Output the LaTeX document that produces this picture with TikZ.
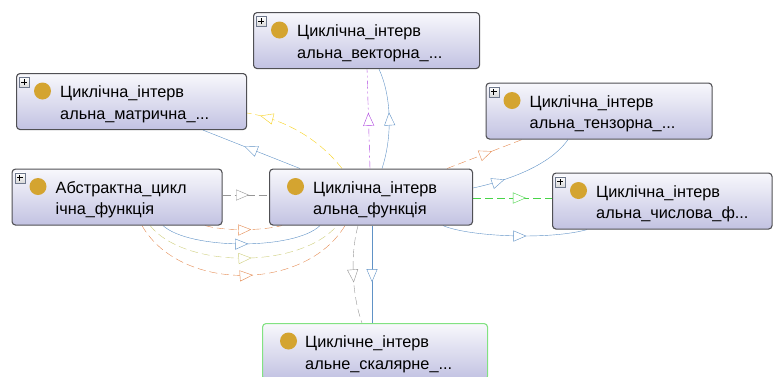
\documentclass[tikz,border=0pt]{standalone}
\usepackage{fontspec}
\setmainfont{Liberation Sans}
\usetikzlibrary{arrows.meta,decorations.markings,calc,backgrounds}
\definecolor{boxtop}{RGB}{248,248,252}
\definecolor{boxbot}{RGB}{194,194,226}
\definecolor{boxborder}{RGB}{80,80,84}
\definecolor{dotcol}{RGB}{212,164,48}
\definecolor{edgeblue}{RGB}{96,146,198}
\definecolor{edgepurple}{RGB}{172,64,222}
\definecolor{edgeyellow}{RGB}{248,210,30}
\definecolor{edgeorange}{RGB}{228,138,80}
\definecolor{edgegray}{RGB}{150,150,150}
\definecolor{edgegreen}{RGB}{72,212,72}
\definecolor{edgeolive}{RGB}{206,206,124}
\definecolor{scalborder}{RGB}{130,226,130}
\definecolor{plusborder}{RGB}{110,120,140}
\tikzset{
  clsbox/.style={draw=boxborder, line width=1.1pt, rounded corners=3.5pt,
    top color=boxtop, bottom color=boxbot, anchor=north west,
    minimum height=56pt, inner sep=0pt},
  dotnode/.style={circle, fill=dotcol, minimum size=17pt, inner sep=0pt},
  lbl/.style={anchor=base west, inner sep=0pt, font=\fontsize{16.3}{20}\selectfont},
  plusicon/.style={draw=plusborder, line width=0.6pt, top color=white, bottom color=black!15,
    minimum size=10pt, inner sep=0pt, anchor=north west,
    path picture={\draw[black, line width=1.2pt]
      ($(path picture bounding box.center)+(-3pt,0)$) -- ($(path picture bounding box.center)+(3pt,0)$)
      ($(path picture bounding box.center)+(0,-3pt)$) -- ($(path picture bounding box.center)+(0,3pt)$);}},
  rel/.style={line width=1.1pt},
  dsh/.style={dash pattern=on 8pt off 4pt},
  dashdotted/.style={dash pattern=on 8pt off 3pt on 2pt off 3pt},
  midarrow/.style={postaction={decorate}, decoration={markings,
    mark=at position #1 with {\arrow{Triangle[length=13pt,width=11pt,fill=white]}}}},
}
\newcommand\classbox[7]{%
  \node[clsbox, minimum width=#4] (#1) at (#2,#3) {};
  \node[dotnode] (#1-dot) at ($(#1.north west)+(26.5,18)$) {};
  \node[lbl] (#1-l1) at ($(#1.north west)+(44,24.5)$) {#5};
  \node[lbl] (#1-l2) at ($(#1.north west)+(44,46)$) {#6};
  \ifx#7y\node[plusicon] (#1-plus) at ($(#1.north west)+(3,4)$) {};\fi
}
\begin{document}
\begin{tikzpicture}[x=1pt,y=-1pt]
\useasboundingbox (0,0) rectangle (773,376);
\classbox{vec}{253}{12}{226}{Циклічна\_інтерв}{альна\_векторна\_...}{y}
\classbox{mat}{16}{73}{230}{Циклічна\_інтерв}{альна\_матрична\_...}{y}
\classbox{tens}{485.5}{82.5}{226}{Циклічна\_інтерв}{альна\_тензорна\_...}{y}
\classbox{abs}{11.5}{168.5}{210}{Абстрактна\_цикл}{ічна\_функція}{y}
\classbox{cen}{269}{168.5}{203}{Циклічна\_інтерв}{альна\_функція}{n}
\classbox{num}{552}{172.5}{219.5}{Циклічна\_інтерв}{альна\_числова\_ф...}{y}
\begin{scope}
\clip (0,0) rectangle (773,376);
\node[clsbox, minimum width=225, draw=scalborder] (scal) at (262,323) {};
\node[dotnode] (scal-dot) at ($(scal.north west)+(26.5,18)$) {};
\node[lbl] (scal-l1) at ($(scal.north west)+(43,24.5)$) {Циклічне\_інтерв};
\node[lbl] (scal-l2) at ($(scal.north west)+(43,46)$) {альне\_скалярне\_...};
\end{scope}
\begin{scope}[on background layer, rel]
% to vector
\draw[edgepurple, dashdotted, midarrow=0.56] ($(cen.north west)+(101,0)$) -- ($(vec.south west)+(114,0)$);
\draw[edgeblue, midarrow=0.56] ($(cen.north west)+(113,0)$) .. controls (393,135) and (391,95) .. ($(vec.south west)+(126,0)$);
% to matrix
\draw[edgeblue, midarrow=0.57] ($(cen.north west)+(31,0)$) -- ($(mat.south west)+(187,0)$);
\draw[edgeyellow, dsh, midarrow=0.88] ($(cen.north west)+(73,0)$) .. controls (320,140) and (285,119) .. ($(mat.north east)+(0,40)$);
% to tensor
\draw[edgeorange, dsh, midarrow=0.6] ($(cen.north west)+(178,0)$) -- ($(tens.south west)+(36.5,0)$);
\draw[edgeblue, midarrow=0.3] ($(cen.north east)+(0,19.5)$) .. controls (510,180) and (550,165) .. ($(tens.south west)+(82.5,0)$);
% to numeric
\draw[edgegreen, dsh, midarrow=0.67] ($(cen.north east)+(0,29.5)$) -- ($(num.north west)+(0,25.5)$);
\draw[edgeblue, midarrow=0.58] ($(cen.south west)+(174,0)$) .. controls (470,237) and (550,240) .. ($(num.south west)+(35,0)$);
% from abstract
\draw[edgegray, dsh, midarrow=0.57] ($(abs.north east)+(0,26.5)$) -- ($(cen.north west)+(0,26.5)$);
\draw[edgeorange, dsh, midarrow=0.6] ($(abs.south west)+(193.5,0)$) .. controls (225,231) and (260,231) .. ($(cen.south west)+(13,0)$);
\draw[edgeblue, midarrow=0.54] ($(abs.south west)+(151.5,0)$) .. controls (190,250) and (295,250) .. ($(cen.south west)+(51,0)$);
\draw[edgeolive, dsh, midarrow=0.54] ($(abs.south west)+(138.5,0)$) .. controls (185,269) and (300,269) .. ($(cen.south west)+(68,0)$);
\draw[edgeorange, dsh, midarrow=0.54] ($(abs.south west)+(130.5,0)$) .. controls (180,292) and (305,292) .. ($(cen.south west)+(76,0)$);
% to scalar
\draw[edgegray, dsh, midarrow=0.58] ($(cen.south west)+(89,0)$) .. controls (350,255) and (352,295) .. ($(scal.north west)+(100,0)$);
\draw[edgeblue, midarrow=0.58] ($(cen.south west)+(103,0)$) -- ($(scal.north west)+(110,0)$);
\end{scope}
\end{tikzpicture}
\end{document}
